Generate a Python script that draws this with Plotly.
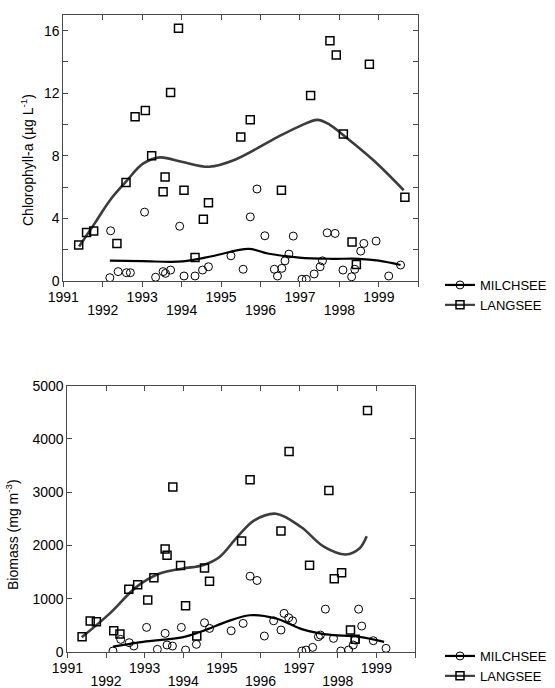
import plotly.graph_objects as go

# ---- Chlorophyll-a (µg L-1) ----
chl_milch_year = [1992.18, 1992.20, 1992.39, 1992.60, 1992.70, 1993.06, 1993.34, 1993.53, 1993.59,
                  1993.72, 1993.95, 1994.06, 1994.34, 1994.53, 1994.68, 1995.25, 1995.56, 1995.74,
                  1995.91, 1996.11, 1996.35, 1996.43, 1996.54, 1996.62, 1996.72, 1996.83, 1997.05,
                  1997.16, 1997.36, 1997.51, 1997.57, 1997.69, 1997.89, 1998.09, 1998.31, 1998.39,
                  1998.54, 1998.62, 1998.93, 1999.25, 1999.55]
chl_milch = [0.21, 3.21, 0.60, 0.53, 0.53, 4.40, 0.24, 0.60, 0.49,
             0.70, 3.50, 0.32, 0.32, 0.70, 0.91, 1.61, 0.75, 4.10,
             5.88, 2.89, 0.75, 0.32, 0.81, 1.29, 1.72, 2.87, 0.11,
             0.11, 0.45, 0.91, 1.29, 3.08, 3.04, 0.70, 0.27, 0.75,
             1.91, 2.40, 2.55, 0.32, 1.02]

chl_lang_year = [1991.39, 1991.59, 1991.77, 1992.36, 1992.59, 1992.82, 1993.08, 1993.24, 1993.53,
                 1993.58, 1993.72, 1993.92, 1994.06, 1994.34, 1994.55, 1994.68, 1995.50, 1995.74,
                 1996.53, 1997.27, 1997.76, 1997.92, 1998.10, 1998.32, 1998.43, 1998.76, 1999.66]
chl_lang = [2.30, 3.10, 3.20, 2.40, 6.30, 10.50, 10.90, 8.00, 5.70,
            6.65, 12.05, 16.15, 5.80, 1.50, 3.95, 5.00, 9.20, 10.30,
            5.80, 11.85, 15.35, 14.45, 9.40, 2.50, 1.05, 13.85, 5.35]

# smoothed trend lines
chl_milch_fit_year = [1992.18, 1993.00, 1994.03, 1994.80, 1995.70, 1996.18, 1996.98, 1997.80,
                      1998.49, 1999.00, 1999.55]
chl_milch_fit = [1.30, 1.27, 1.25, 1.60, 2.05, 1.76, 1.50, 1.42, 1.42, 1.30, 1.02]

chl_lang_fit_year = [1991.40, 1991.80, 1992.18, 1992.59, 1993.02, 1993.45, 1994.03, 1994.70,
                     1995.35, 1996.43, 1997.00, 1997.44, 1997.75, 1998.11, 1998.87, 1999.63]
chl_lang_fit = [2.20, 3.70, 5.15, 6.35, 7.50, 7.90, 7.60, 7.30,
                7.75, 9.20, 9.90, 10.30, 10.00, 9.30, 7.70, 5.80]

# ---- Biomass (mg m-3) ----
bio_milch_year = [1992.18, 1992.38, 1992.60, 1992.72, 1993.05, 1993.33, 1993.53, 1993.58, 1993.72,
                  1993.95, 1994.06, 1994.34, 1994.55, 1994.68, 1995.24, 1995.55, 1995.73, 1995.91,
                  1996.10, 1996.34, 1996.53, 1996.61, 1996.73, 1996.83, 1997.07, 1997.18, 1997.35,
                  1997.50, 1997.55, 1997.68, 1997.89, 1998.08, 1998.28, 1998.40, 1998.45, 1998.54,
                  1998.62, 1998.92, 1999.25]
bio_milch = [19, 237, 175, 112, 462, 50, 350, 131, 112,
             462, 37, 144, 549, 443, 399, 537, 1423, 1343,
             300, 586, 412, 725, 643, 586, 19, 37, 87,
             287, 318, 805, 256, 19, 37, 131, 225, 805,
             487, 212, 69]

bio_lang_year = [1991.38, 1991.59, 1991.75, 1992.20, 1992.36, 1992.59, 1992.82, 1993.08, 1993.24,
                 1993.53, 1993.58, 1993.73, 1993.93, 1994.06, 1994.35, 1994.55, 1994.68, 1995.51,
                 1995.73, 1996.53, 1996.74, 1997.27, 1997.77, 1997.91, 1998.10, 1998.33, 1998.45,
                 1998.77]
bio_lang = [287, 581, 568, 399, 337, 1180, 1261, 974, 1392,
            1935, 1817, 3096, 1624, 867, 300, 1579, 1330, 2085,
            3235, 2272, 3765, 1630, 3034, 1373, 1486, 412, 238,
            4533]

bio_milch_fit_year = [1992.18, 1992.96, 1994.00, 1994.60, 1995.11, 1995.72, 1996.40, 1997.09,
                      1997.70, 1998.56, 1999.20]
bio_milch_fit = [100, 190, 280, 420, 565, 690, 630, 425, 330, 285, 190]

bio_lang_fit_year = [1991.37, 1992.10, 1992.79, 1993.39, 1993.99, 1994.51, 1994.94, 1995.40,
                     1995.84, 1996.40, 1997.05, 1997.65, 1998.21, 1998.56, 1998.75]
bio_lang_fit = [275, 725, 1223, 1473, 1568, 1630, 1785, 2160,
                2472, 2597, 2347, 1972, 1830, 1942, 2173]

year_range = [1991, 2000]
even_years = [1992, 1994, 1996, 1998]
chl_range = [0, 17]
bio_range = [0, 5000]

FONT = "Liberation Sans, Arial, sans-serif"
AXIS = "#4a4a4a"
LANG_LINE = "#3c3c3c"
W, H = 555, 688


def xdom(a, b):
    return [a / W, b / W]


def ydom(top, bottom):
    return [1 - bottom / H, 1 - top / H]


fig = go.Figure()

marker_circle = dict(symbol="circle-open", size=8, color="black", line=dict(width=1, color="black"))
marker_square = dict(symbol="square-open", size=8, color="black", line=dict(width=1.5, color="black"))

panels = [
    ("x", "y", "legend", chl_milch_year, chl_milch, chl_lang_year, chl_lang,
     chl_milch_fit_year, chl_milch_fit, chl_lang_fit_year, chl_lang_fit),
    ("x2", "y2", "legend2", bio_milch_year, bio_milch, bio_lang_year, bio_lang,
     bio_milch_fit_year, bio_milch_fit, bio_lang_fit_year, bio_lang_fit),
]

for (xa, ya, lg, mx, my, lx, ly, mfx, mfy, lfx, lfy) in panels:
    fig.add_trace(go.Scatter(x=lfx, y=lfy, mode="lines",
                             line=dict(color=LANG_LINE, width=2.6, shape="spline", smoothing=1.0),
                             xaxis=xa, yaxis=ya, showlegend=False, hoverinfo="skip"))
    fig.add_trace(go.Scatter(x=mfx, y=mfy, mode="lines",
                             line=dict(color="black", width=2.2, shape="spline", smoothing=1.0),
                             xaxis=xa, yaxis=ya, showlegend=False, hoverinfo="skip"))
    fig.add_trace(go.Scatter(x=lx, y=ly, mode="markers", marker=marker_square,
                             xaxis=xa, yaxis=ya, showlegend=False, name="LANGSEE"))
    fig.add_trace(go.Scatter(x=mx, y=my, mode="markers", marker=marker_circle,
                             xaxis=xa, yaxis=ya, showlegend=False, name="MILCHSEE"))
    # legend entries (line with marker)
    fig.add_trace(go.Scatter(x=[None], y=[None], mode="lines+markers", name="MILCHSEE",
                             line=dict(color="black", width=2.2), marker=marker_circle,
                             xaxis=xa, yaxis=ya, legend=lg))
    fig.add_trace(go.Scatter(x=[None], y=[None], mode="lines+markers", name="LANGSEE",
                             line=dict(color=LANG_LINE, width=2.2), marker=marker_square,
                             xaxis=xa, yaxis=ya, legend=lg))

# helper axes: top-edge ticks and the second row of year labels
for xa, ya in [("x3", "y"), ("x4", "y2"), ("x5", "y"), ("x6", "y2")]:
    fig.add_trace(go.Scatter(x=[None], y=[None], xaxis=xa, yaxis=ya, showlegend=False))

tickfont = dict(family=FONT, size=14, color="black")
common_x = dict(range=year_range, tickmode="linear", tick0=1991, dtick=2,
                ticks="outside", ticklen=5, tickcolor=AXIS,
                minor=dict(dtick=1, tick0=1991, ticks="outside", ticklen=5, tickcolor=AXIS, showgrid=False),
                showline=True, linecolor=AXIS, linewidth=1,
                mirror=True, showgrid=False, zeroline=False, automargin=False,
                ticklabelstandoff=-2, tickfont=tickfont)
top_x = dict(range=year_range, tickmode="linear", tick0=1991, dtick=1, ticks="inside", ticklen=5,
             tickcolor=AXIS, showticklabels=False, showline=False, showgrid=False, zeroline=False,
             side="top", automargin=False)
even_x = dict(range=year_range, tickmode="array", tickvals=even_years,
              ticktext=[str(y) for y in even_years], ticks="", showline=False, showgrid=False,
              zeroline=False, side="bottom", automargin=False, ticklabelstandoff=19, tickfont=tickfont)
common_y = dict(ticks="inside", ticklen=5, tickcolor=AXIS, showline=True, linecolor=AXIS, linewidth=1,
                mirror="ticks", showgrid=False, zeroline=False, automargin=False, tickfont=tickfont)

legend_style = dict(xanchor="left", yanchor="top", bgcolor="rgba(0,0,0,0)",
                    font=dict(family=FONT, size=13, color="black"), tracegroupgap=0, itemwidth=30)

fig.update_layout(
    template="none",
    width=W, height=H,
    margin=dict(l=0, r=0, t=0, b=0, autoexpand=False),
    paper_bgcolor="white", plot_bgcolor="white",
    font=dict(family=FONT, size=14, color="black"),
    xaxis=dict(domain=xdom(63.3, 418.3), anchor="y", **common_x),
    yaxis=dict(domain=ydom(15, 281), anchor="x", range=chl_range, tickmode="linear", tick0=0, dtick=4,
               minor=dict(dtick=2, tick0=0, ticks="inside", ticklen=5, tickcolor=AXIS, showgrid=False),
               **common_y),
    xaxis3=dict(overlaying="x", anchor="y", **top_x),
    xaxis5=dict(overlaying="x", anchor="y", **even_x),
    xaxis2=dict(domain=xdom(67.4, 415), anchor="y2", **common_x),
    yaxis2=dict(domain=ydom(385.7, 652), anchor="x2", range=bio_range, tickmode="linear", tick0=0,
                dtick=1000, **common_y),
    xaxis4=dict(overlaying="x2", anchor="y2", **top_x),
    xaxis6=dict(overlaying="x2", anchor="y2", **even_x),
    legend=dict(x=440 / W, y=1 - 270 / H, **legend_style),
    legend2=dict(x=440 / W, y=1 - 641 / H, **legend_style),
    showlegend=True,
    annotations=[
        dict(text="Chlorophyll-a (µg L<sup>-1</sup>)", textangle=-90, xref="paper", yref="paper",
             x=27 / W, y=1 - 160 / H, xanchor="center", yanchor="middle", showarrow=False,
             font=dict(family=FONT, size=14, color="black")),
        dict(text="Biomass (mg m<sup>-3</sup>)", textangle=-90, xref="paper", yref="paper",
             x=12 / W, y=1 - 535 / H, xanchor="center", yanchor="middle", showarrow=False,
             font=dict(family=FONT, size=14, color="black")),
    ],
)

fig.write_html("out.html")
